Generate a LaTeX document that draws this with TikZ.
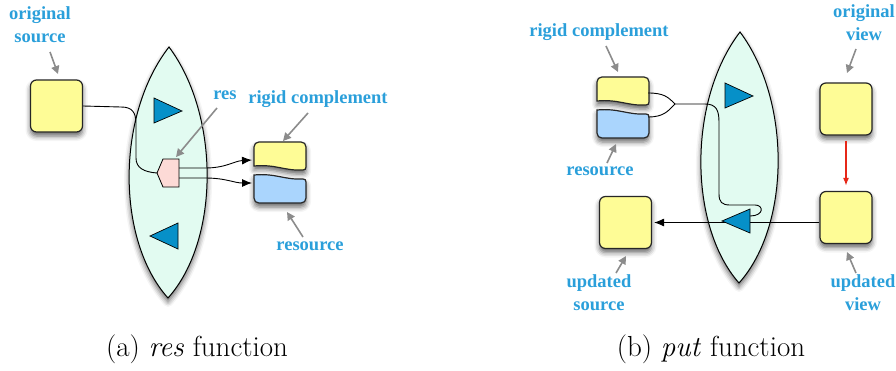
\documentclass[tikz,border=0pt]{standalone}
\usepackage{fontspec}
\usetikzlibrary{arrows.meta,shadows.blur,calc}
\newfontfamily\lblfont{Liberation Serif}

\definecolor{lblue}{HTML}{2A9FDA}
\definecolor{boxyellow}{HTML}{FEFC96}
\definecolor{boxblue}{HTML}{AAD5FD}
\definecolor{lensgreen}{HTML}{E2FBF1}
\definecolor{triblue}{HTML}{0690C8}
\definecolor{pentpink}{HTML}{FDDAD6}
\definecolor{arrowgray}{HTML}{8C8C8C}
\definecolor{redarrow}{HTML}{E62718}

\tikzset{
  softshadow/.style={blur shadow={shadow xshift=0pt, shadow yshift=-4pt,
      shadow blur radius=5pt, shadow opacity=60}},
  databox/.style={draw=black!85, line width=1.2pt, fill=boxyellow,
      rounded corners=6pt, minimum width=52pt, minimum height=52pt,
      inner sep=0pt, softshadow},
  piece/.style={draw=black!85, line width=1.2pt, softshadow},
  lens/.style={draw=black, line width=1pt, fill=lensgreen, softshadow},
  tri/.style={draw=black, line width=0.7pt, fill=triblue},
  lbl/.style={text=lblue, font=\lblfont\bfseries\fontsize{18.5}{23}\selectfont,
      align=center, inner sep=0pt},
  pointer/.style={draw=arrowgray, line width=1.6pt,
      -{Triangle[length=8pt,width=8pt]}},
  wire/.style={draw=black, line width=0.9pt},
  caption/.style={font=\fontsize{29}{32}\selectfont, inner sep=0pt},
  % rigid complement (yellow) stacked over resource (blue), origin top-left
  complement/.pic={
    \path[piece, fill=boxyellow]
      (0,24) -- (0,5) .. controls (0,2) and (2,0) .. (5,0) -- (47,0)
      .. controls (50,0) and (52,2) .. (52,5) -- (52,25)
      .. controls (52,27) and (51,28) .. (49,28)
      .. controls (30,29) and (22,22) .. (0,24) -- cycle;
    \path[piece, fill=boxblue]
      (0,33) .. controls (22,31) and (30,38) .. (49,37)
      .. controls (51,37) and (52,38) .. (52,40) -- (52,56)
      .. controls (52,59) and (50,61) .. (47,61) -- (5,61)
      .. controls (2,61) and (0,59) .. (0,56) -- cycle;
    \coordinate (-yw) at (-2,18);
    \coordinate (-bw) at (-2,41);
    \coordinate (-ye) at (51,16);
    \coordinate (-be) at (51,40);
  }
}

\begin{document}
\begin{tikzpicture}[x=1pt, y=-1pt]
\useasboundingbox (0,0) rectangle (896,370);

% ---------------- (a) res function ----------------
\path[lens] (169,47) .. controls (116,115) and (116,240) .. (168,298)
            .. controls (220,240) and (220,115) .. (169,47) -- cycle;

\node[databox] (srcA) at (56.5,106) {};
\pic (ca) at (254,142) {complement};

% pentagon-shaped res component
\coordinate (pA1) at (163,159);
\coordinate (pA2) at (179,159);
\coordinate (pA3) at (179,187);
\coordinate (pA4) at (163,187);
\coordinate (pA5) at (157,173);
\coordinate (pAo1) at (179,168);
\coordinate (pAo2) at (179,178);

\draw[wire] (srcA.east) -- (121,107)
  .. controls (132,107) and (136,112) .. (136,124) -- (136,158)
  .. controls (136,168) and (144,172) .. (pA5);

\draw[draw=black, line width=0.8pt, fill=pentpink]
  (pA1) -- (pA2) -- (pA3) -- (pA4) -- (pA5) -- cycle;

\draw[wire, -{Latex[length=10pt,width=8pt]}] (pAo1) -- (205,168)
  .. controls (226,168) and (234,161) .. (ca-yw);
\draw[wire, -{Latex[length=10pt,width=8pt]}] (pAo2) -- (205,178)
  .. controls (226,178) and (234,183) .. (ca-bw);

% triangles in the lens
\coordinate (tA1) at (154,98);
\coordinate (tA2) at (154,123);
\coordinate (tA3) at (182,111);
\draw[tri] (tA1) -- (tA3) -- (tA2) -- cycle;
\coordinate (tA4) at (150,236);
\coordinate (tA5) at (178,223);
\coordinate (tA6) at (178,249);
\draw[tri] (tA4) -- (tA5) -- (tA6) -- cycle;

% labels
\node[lbl] (lOrigSrc) at (40,25) {original\\source};
\node[lbl] (lRes) at (225,95) {res};
\node[lbl] (lRigA) at (318,99) {rigid complement};
\node[lbl] (lResA) at (310,246) {resource};

\coordinate (g1s) at (50,52);  \coordinate (g1e) at (58,74);
\coordinate (g2s) at (217,108); \coordinate (g2e) at (176,157);
\coordinate (g3s) at (308,113); \coordinate (g3e) at (283,141);
\coordinate (g4s) at (303,237); \coordinate (g4e) at (287,212);
\draw[pointer] (g1s) -- (g1e);
\draw[pointer] (g2s) -- (g2e);
\draw[pointer] (g3s) -- (g3e);
\draw[pointer] (g4s) -- (g4e);

\node[caption] (capA) at (197,349) {(a) \textit{res} function};

% ---------------- (b) put function ----------------
\path[lens] (740,32) .. controls (688,100) and (688,225) .. (739,283)
            .. controls (791,225) and (791,100) .. (740,32) -- cycle;

\node[databox] (origV) at (846,109) {};
\node[databox] (updV) at (846,217.5) {};
\node[databox] (updS) at (625.5,222.5) {};
\pic (cb) at (597,77) {complement};

\coordinate (jn) at (675,104);
\coordinate (tB4) at (722,221);
\coordinate (tB5) at (750,209);
\coordinate (tB6) at (750,233);
\coordinate (tBin) at (750,216);

\draw[wire] (cb-ye) .. controls (664,93) and (668,97) .. (jn);
\draw[wire] (cb-be) .. controls (664,117) and (668,111) .. (jn);
\draw[wire] (jn) -- (705,104)
  .. controls (716,104) and (719,110) .. (719,122) -- (719,194)
  .. controls (719,202) and (722,205) .. (730,205) -- (755,205)
  .. controls (764,205) and (764,216) .. (tBin);

\draw[wire, -{Latex[length=10pt,width=8pt]}, shorten >=2pt]
  (updS.east -| updV.west) -- (updS.east);

\draw[redarrow, line width=1.5pt, -{Latex[length=8pt,width=6pt]},
      shorten <=5pt, shorten >=5pt] (origV.south) -- (updV.north);

\coordinate (tB1) at (725,83);
\coordinate (tB2) at (725,108);
\coordinate (tB3) at (753,96);
\draw[tri] (tB1) -- (tB3) -- (tB2) -- cycle;
\draw[tri] (tB4) -- (tB5) -- (tB6) -- cycle;

\node[lbl] (lRigB) at (599,32) {rigid complement};
\node[lbl] (lOrigV) at (864,23) {original\\view};
\node[lbl] (lResB) at (600,171) {resource};
\node[lbl] (lUpdS) at (599,293) {updated\\source};
\node[lbl] (lUpdV) at (863,293) {updated\\view};

\coordinate (h1s) at (606,46);  \coordinate (h1e) at (618,72);
\coordinate (h2s) at (856,49);  \coordinate (h2e) at (847,73);
\coordinate (h3s) at (607,163); \coordinate (h3e) at (616,144);
\coordinate (h4s) at (616,273); \coordinate (h4e) at (626,256);
\coordinate (h5s) at (856,273); \coordinate (h5e) at (847,252);
\draw[pointer] (h1s) -- (h1e);
\draw[pointer] (h2s) -- (h2e);
\draw[pointer] (h3s) -- (h3e);
\draw[pointer] (h4s) -- (h4e);
\draw[pointer] (h5s) -- (h5e);

\node[caption] (capB) at (711,349) {(b) \textit{put} function};
\end{tikzpicture}
\end{document}
